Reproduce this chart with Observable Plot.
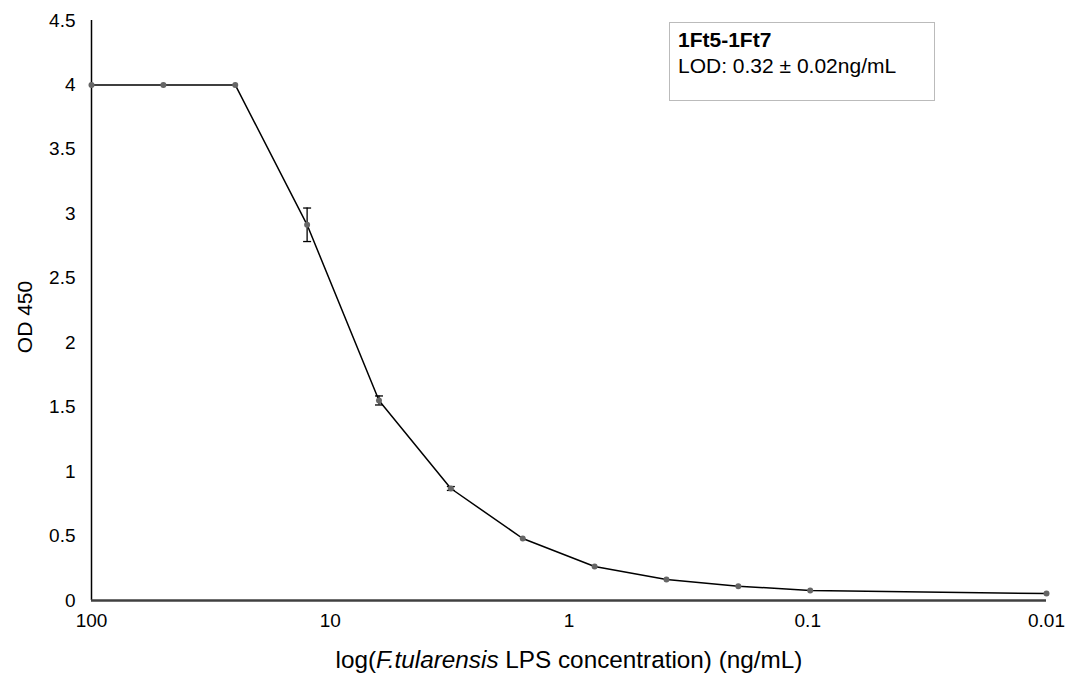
<!DOCTYPE html>
<html><head><meta charset="utf-8">
<script src="https://cdn.jsdelivr.net/npm/d3@7"></script>
<script src="https://cdn.jsdelivr.net/npm/@observablehq/plot@0.6"></script>
<style>
body{margin:0;background:#fff;font-family:"Liberation Sans",Arial,sans-serif;}
#wrap{position:relative;width:1074px;height:677px;}
</style></head>
<body><div id="wrap"></div>
<script>
const concentrations = [100, 50, 25, 12.5, 6.25, 3.125, 1.5625, 0.78125, 0.390625, 0.1953125, 0.09765625, 0.01];
const od450 = [4.0, 4.0, 4.0, 2.915, 1.552, 0.869, 0.481, 0.264, 0.163, 0.111, 0.078, 0.054];
const errors = [0, 0, 0, 0.13, 0.035, 0.015, 0, 0, 0, 0, 0, 0];
const xTicks = [100, 10, 1, 0.1, 0.01];
const xTickLabels = ["100", "10", "1", "0.1", "0.01"];
const yTicks = [0, 0.5, 1, 1.5, 2, 2.5, 3, 3.5, 4, 4.5];
const legendTitle = "1Ft5-1Ft7";
const legendText = "LOD: 0.32 ± 0.02ng/mL";
const yLabel = "OD 450";

const data = concentrations.map((c, i) => ({c, v: od450[i], e: errors[i]}));
const errData = data.filter(d => d.e > 0);
const capSymbol = {draw(ctx, size){ ctx.moveTo(-4, 0); ctx.lineTo(4, 0); }};

const chart = Plot.plot({
  width: 1074, height: 677,
  marginLeft: 91, marginRight: 28, marginTop: 20, marginBottom: 77,
  style: {fontFamily: "'Liberation Sans', Arial, sans-serif", fontSize: "19px", color: "#000", background: "#fff"},
  x: {type: "log", domain: [100, 0.01]},
  y: {domain: [0, 4.5]},
  marks: [
    Plot.axisY({ticks: yTicks, tickSize: 0, tickPadding: 16, tickFormat: d => String(d), label: null, fontSize: 19}),
    Plot.axisX({ticks: xTicks, tickSize: 0, tickPadding: 13, tickFormat: d => xTickLabels[xTicks.indexOf(d)], label: null, fontSize: 19}),
    Plot.ruleX([100], {stroke: "#000", strokeWidth: 1.5}),
    Plot.ruleY([0], {stroke: "#404040", strokeWidth: 2.5}),
    Plot.line(data, {x: "c", y: "v", stroke: "#000", strokeWidth: 1.5}),
    Plot.ruleX(errData, {x: "c", y1: d => d.v - d.e, y2: d => d.v + d.e, stroke: "#000", strokeWidth: 1.3}),
    Plot.dot(errData, {x: "c", y: d => d.v - d.e, symbol: capSymbol, stroke: "#000", strokeWidth: 1.3, r: 4}),
    Plot.dot(errData, {x: "c", y: d => d.v + d.e, symbol: capSymbol, stroke: "#000", strokeWidth: 1.3, r: 4}),
    Plot.dot(data, {x: "c", y: "v", r: 3, fill: "#666", stroke: "none"})
  ]
});
const wrap = document.getElementById("wrap");
wrap.appendChild(chart);

const svg = d3.select(chart);
svg.selectAll("text").style("font-size", "19px").attr("font-size", 19);
// y-axis title
svg.append("text")
  .attr("transform", "translate(32,317) rotate(-90)")
  .attr("text-anchor", "middle")
  .style("font-size", "21px").attr("fill", "#000").text(yLabel);
// x-axis title with italic species name
const t = svg.append("text")
  .attr("x", 569).attr("y", 668)
  .attr("text-anchor", "middle")
  .style("font-size", "24.3px").attr("fill", "#000");
t.append("tspan").text("log(");
t.append("tspan").attr("font-style", "italic").text("F.tularensis");
t.append("tspan").text(" LPS concentration) (ng/mL)");

// legend box
const lg = svg.append("g").attr("text-anchor", "start");
lg.append("rect").attr("x", 669.5).attr("y", 22.5).attr("width", 265).attr("height", 78)
  .attr("fill", "#fff").attr("stroke", "#bbb").attr("stroke-width", 1);
lg.append("text").attr("x", 678).attr("y", 47).attr("text-anchor", "start").style("font-size", "21px").attr("font-weight", "bold").attr("fill", "#000").text(legendTitle);
lg.append("text").attr("x", 678).attr("y", 73).attr("text-anchor", "start").style("font-size", "21px").attr("fill", "#000").text(legendText);
</script></body></html>
